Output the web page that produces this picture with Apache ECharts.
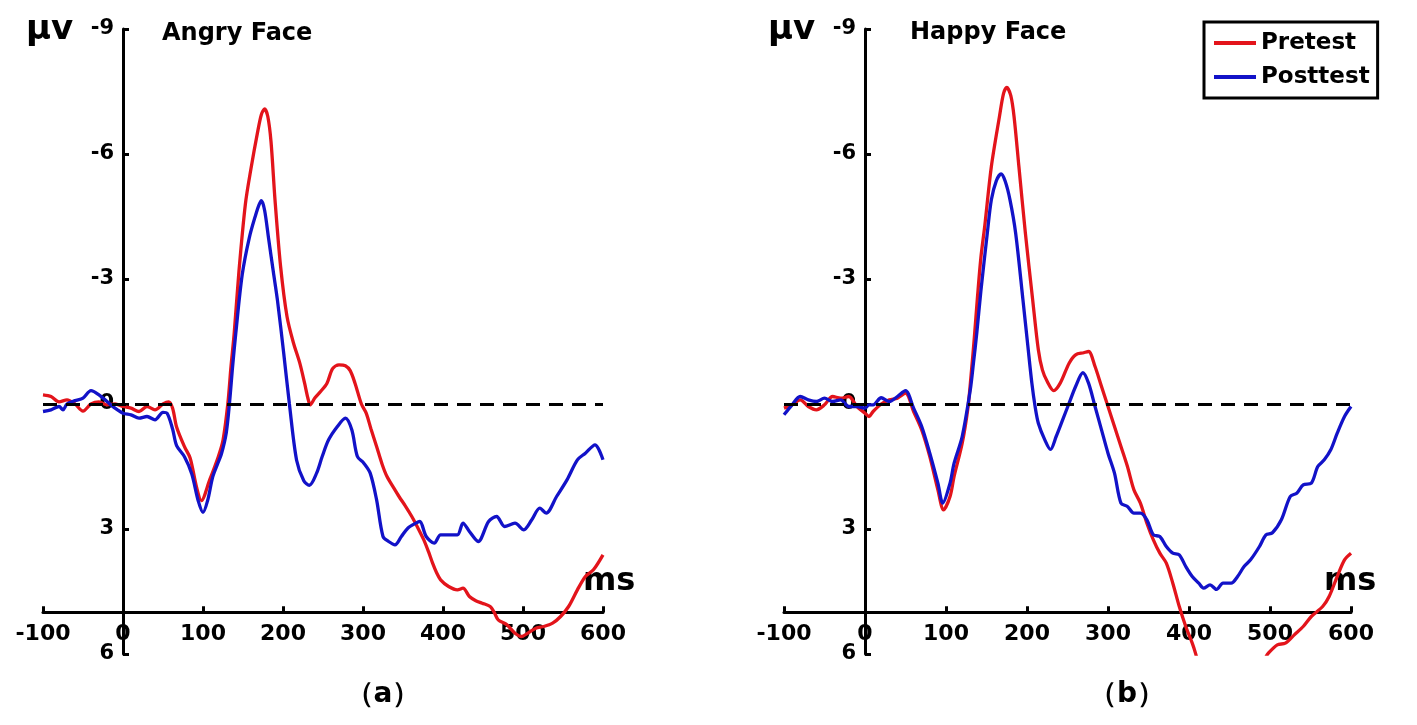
<!DOCTYPE html>
<html>
<head>
<meta charset="utf-8">
<script src="https://cdn.jsdelivr.net/npm/echarts@6/dist/echarts.min.js"></script>
<style>html,body{margin:0;padding:0;background:#fff}#c{width:1417px;height:725px}</style>
</head>
<body>
<div id="c"></div>
<script>
// ---- data: [time (ms), amplitude (µV)] ----
const angryPre = [
[-100,-0.22],[-90,-0.18],[-80,-0.05],[-70,-0.1],[-60,0],[-50,0.17],[-40,0],[-30,-0.05],[-20,0.02],[-10,0],[0,0.06],[10,0.1],[20,0.18],[30,0.06],[40,0.14],[50,0],[57,-0.05],[62,0.1],[67,0.55],[77,1.03],[84,1.3],[92,2.0],[98,2.32],[108,1.84],[119,1.27],[125,0.87],[131,0],[135,-0.9],[139,-1.7],[145,-3.2],[153,-4.8],[160,-5.65],[168,-6.5],[173,-6.95],[177,-7.08],[181,-6.9],[185,-6.3],[190,-4.9],[197,-3.3],[205,-2.1],[213,-1.47],[221,-0.98],[227,-0.5],[231,-0.15],[234,0.02],[240,-0.15],[247,-0.3],[255,-0.5],[262,-0.85],[270,-0.94],[278,-0.92],[284,-0.8],[290,-0.5],[298,0],[304,0.22],[310,0.6],[317,1.02],[324,1.45],[330,1.74],[338,2.0],[345,2.22],[353,2.45],[361,2.7],[368,2.95],[376,3.26],[382,3.55],[387,3.82],[392,4.05],[397,4.22],[407,4.38],[418,4.46],[425,4.42],[433,4.62],[441,4.72],[449,4.78],[459,4.86],[464,5.0],[469,5.18],[480,5.3],[490,5.5],[498,5.58],[506,5.5],[516,5.38],[526,5.34],[537,5.26],[547,5.1],[557,4.86],[568,4.46],[578,4.14],[588,3.98],[600,3.62]
];
const angryPost = [
[-100,0.18],[-90,0.14],[-80,0.06],[-75,0.14],[-70,0],[-60,-0.08],[-50,-0.14],[-40,-0.32],[-30,-0.22],[-20,-0.06],[-10,0.1],[0,0.22],[10,0.26],[20,0.34],[30,0.3],[40,0.38],[50,0.2],[55,0.22],[62,0.6],[67,1.0],[77,1.27],[86,1.68],[94,2.32],[100,2.6],[106,2.3],[112,1.76],[118,1.45],[123,1.2],[129,0.7],[133,0],[137,-0.9],[141,-1.7],[149,-3.1],[158,-4.0],[166,-4.55],[170,-4.78],[173,-4.88],[177,-4.65],[182,-3.97],[188,-3.16],[193,-2.5],[201,-1.2],[208,0],[217,1.35],[226,1.84],[233,1.95],[242,1.66],[249,1.26],[257,0.86],[268,0.54],[278,0.34],[286,0.62],[293,1.26],[301,1.42],[309,1.66],[317,2.3],[325,3.18],[332,3.3],[340,3.38],[348,3.18],[356,2.98],[366,2.86],[371,2.82],[379,3.18],[389,3.34],[397,3.14],[407,3.14],[418,3.14],[425,2.86],[433,3.06],[444,3.3],[457,2.82],[467,2.7],[477,2.94],[490,2.86],[501,3.02],[511,2.78],[521,2.5],[529,2.62],[542,2.22],[555,1.82],[568,1.34],[578,1.18],[590,0.98],[600,1.34]
];
const happyPre = [
[-100,0.1],[-90,0.02],[-80,-0.1],[-70,0.06],[-60,0.14],[-50,0.02],[-40,-0.18],[-30,-0.14],[-20,-0.18],[-10,0.06],[0,0.22],[5,0.3],[10,0.18],[20,0],[30,-0.1],[40,-0.14],[50,-0.26],[60,0.18],[70,0.62],[80,1.26],[90,2.06],[97,2.54],[105,2.22],[110,1.74],[120,0.94],[127,0.1],[131,-0.7],[135,-1.6],[139,-2.6],[143,-3.5],[148,-4.3],[156,-5.7],[166,-6.9],[171,-7.45],[175,-7.6],[180,-7.4],[184,-6.9],[190,-5.7],[198,-4.1],[207,-2.5],[214,-1.3],[219,-0.82],[225,-0.54],[233,-0.32],[241,-0.5],[252,-0.98],[260,-1.18],[270,-1.23],[276,-1.26],[284,-0.9],[292,-0.42],[300,0.06],[308,0.54],[316,1.02],[324,1.5],[332,2.06],[340,2.38],[348,2.86],[356,3.26],[364,3.58],[372,3.82],[380,4.3],[388,4.86],[396,5.34],[404,5.74],[408,5.98],[413,6.35],[450,'-'],[494,6.1],[498,5.98],[509,5.78],[519,5.74],[530,5.54],[541,5.34],[551,5.1],[565,4.86],[573,4.62],[583,4.14],[592,3.74],[600,3.58]
];
const happyPost = [
[-100,0.26],[-90,0.02],[-80,-0.18],[-70,-0.1],[-60,-0.06],[-50,-0.14],[-40,-0.06],[-30,-0.1],[-20,0.06],[-10,0.06],[0,0.1],[5,0.02],[10,0.02],[20,-0.15],[30,-0.06],[40,-0.18],[50,-0.32],[60,0.1],[70,0.54],[80,1.18],[90,1.9],[96,2.38],[105,1.9],[110,1.42],[120,0.78],[130,-0.34],[134,-1.0],[138,-1.7],[143,-2.7],[151,-4.1],[156,-4.9],[162,-5.35],[168,-5.52],[173,-5.35],[179,-4.9],[186,-4.1],[195,-2.5],[201,-1.4],[206,-0.5],[210,0.06],[214,0.46],[222,0.86],[229,1.09],[236,0.78],[244,0.38],[252,-0.02],[260,-0.42],[269,-0.75],[276,-0.5],[284,0.06],[292,0.62],[300,1.18],[308,1.66],[316,2.38],[324,2.46],[332,2.62],[340,2.62],[348,2.78],[356,3.14],[364,3.18],[372,3.42],[380,3.58],[388,3.62],[396,3.9],[404,4.14],[412,4.3],[418,4.42],[426,4.34],[434,4.45],[442,4.3],[452,4.3],[460,4.14],[468,3.9],[476,3.74],[487,3.42],[495,3.14],[503,3.09],[514,2.78],[525,2.22],[533,2.14],[541,1.94],[551,1.9],[559,1.5],[567,1.34],[575,1.1],[583,0.7],[592,0.3],[600,0.06]
];
const panelTitles = ['Angry Face', 'Happy Face'];
const panelTags = ['（a）', '（b）'];
const seriesNames = ['Pretest', 'Posttest'];
const xTicks = { min: -100, max: 600, step: 100 };
const yTicks = { min: -9, max: 6, step: 3 };
const xAxisAt = 5;   // the time axis is drawn at +5 µV

// ---- styling ----
const FONT = '"DejaVu Sans", "Liberation Sans", Arial, sans-serif';
const RED = '#e3141b', BLUE = '#1212c8';
const chart = echarts.init(document.getElementById('c'));

// panel geometry: plot left, plot width (for -100..600 ms), top, height (for -9..6 µV)
const panels = [
  { left: 43, width: 560, top: 29, height: 625 },
  { left: 784, width: 567, top: 29, height: 625 }
];

const grids = [], xAxes = [], yAxes = [], series = [];
const span = xTicks.max - xTicks.min;
const ySpan = yTicks.max - yTicks.min;
panels.forEach((p, i) => {
  const zeroX = p.left + p.width * (0 - xTicks.min) / span;
  const axisY = p.top + p.height * (xAxisAt - yTicks.min) / ySpan;
  grids.push({ left: p.left, width: p.width, top: p.top, height: axisY - p.top, outerBoundsMode: 'none' });
  grids.push({ left: zeroX, width: p.left + p.width - zeroX, top: p.top, height: p.height, outerBoundsMode: 'none' });
  grids.push({ left: p.left, width: p.width, top: p.top, height: p.height, outerBoundsMode: 'none' });
  const g0 = i * 3;
  xAxes.push({
    gridIndex: g0, type: 'value', position: 'bottom', min: xTicks.min, max: xTicks.max, interval: xTicks.step,
    axisLine: { show: true, onZero: false, lineStyle: { color: '#000', width: 3 } },
    axisTick: { show: true, inside: true, length: 6, lineStyle: { color: '#000', width: 3 } },
    axisLabel: { color: '#000', fontSize: 22, fontWeight: 'bold', fontFamily: FONT, margin: 11 },
    splitLine: { show: false }
  });
  yAxes.push({ gridIndex: g0, type: 'value', show: false, min: yTicks.min, max: xAxisAt, inverse: true, splitLine: { show: false } });
  xAxes.push({ gridIndex: g0 + 1, type: 'value', show: false, min: 0, max: xTicks.max, splitLine: { show: false } });
  yAxes.push({
    gridIndex: g0 + 1, type: 'value', position: 'left', inverse: true, min: yTicks.min, max: yTicks.max, interval: yTicks.step,
    axisLine: { show: true, onZero: false, lineStyle: { color: '#000', width: 3 } },
    axisTick: { show: true, inside: true, length: 6, lineStyle: { color: '#000', width: 3 } },
    axisLabel: { color: '#000', fontSize: 21, fontWeight: 'bold', fontFamily: FONT, margin: 9 },
    splitLine: { show: false }
  });
  xAxes.push({ gridIndex: g0 + 2, type: 'value', show: false, min: xTicks.min, max: xTicks.max, splitLine: { show: false } });
  yAxes.push({ gridIndex: g0 + 2, type: 'value', show: false, inverse: true, min: yTicks.min, max: yTicks.max, splitLine: { show: false } });
});

const zeroLine = {
  silent: true, symbol: 'none', animation: false,
  label: { show: false },
  lineStyle: { color: '#000', width: 3, type: [14, 9] },
  data: [{ yAxis: 0 }]
};
function lineSeries(name, data, panel, color, withZero) {
  const idx = panel * 3 + 2;
  const s = {
    name, type: 'line', data, xAxisIndex: idx, yAxisIndex: idx,
    showSymbol: false, symbol: 'none', smooth: 0.3, connectNulls: false, clip: true,
    lineStyle: { color, width: 3.3 }, itemStyle: { color }, animation: false, z: withZero ? 3 : 4
  };
  if (withZero) s.markLine = zeroLine;
  return s;
}
series.push(
  lineSeries(seriesNames[0], angryPre, 0, RED, true),
  lineSeries(seriesNames[1], angryPost, 0, BLUE, false),
  lineSeries(seriesNames[0], happyPre, 1, RED, true),
  lineSeries(seriesNames[1], happyPost, 1, BLUE, false)
);

const textEl = (x, y, text, size, align) => ({
  type: 'text', x, y, silent: true,
  style: { text, fill: '#000', fontSize: size, fontWeight: 'bold', fontFamily: FONT,
           align: align || 'left', verticalAlign: 'middle' }
});

chart.setOption({
  backgroundColor: '#fff',
  animation: false,
  grid: grids,
  xAxis: xAxes,
  yAxis: yAxes,
  legend: {
    data: seriesNames, orient: 'vertical', left: 1204, top: 22,
    icon: 'rect', itemWidth: 42, itemHeight: 4, itemGap: 8,
    borderColor: '#000', borderWidth: 3, padding: [8, 8, 8, 10],
    textStyle: { color: '#000', fontSize: 23, fontWeight: 'bold', fontFamily: FONT, lineHeight: 26 }
  },
  series,
  graphic: [
    textEl(26, 30, 'μv', 34),
    textEl(768, 30, 'μv', 34),
    textEl(162, 34, panelTitles[0], 24),
    textEl(910, 33, panelTitles[1], 24),
    textEl(583, 582, 'ms', 32),
    textEl(1324, 582, 'ms', 32),
    textEl(383, 695, panelTags[0], 28, 'center'),
    textEl(1127, 695, panelTags[1], 28, 'center')
  ]
});
</script>
</body>
</html>
